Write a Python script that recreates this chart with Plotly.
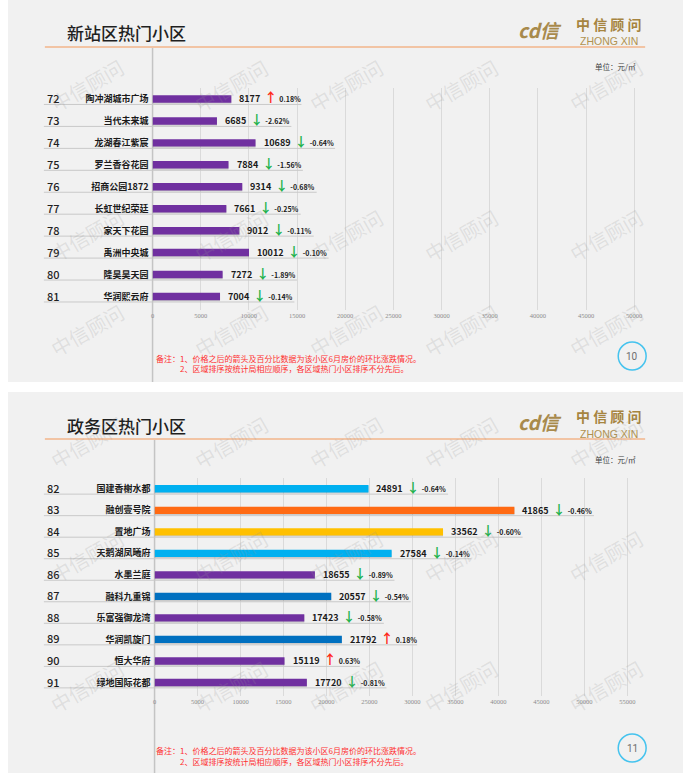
import plotly.graph_objects as go

W, H = 695, 779

# ---- 新站区 ----
xz_title = "新站区热门小区"
xz_rank = [72, 73, 74, 75, 76, 77, 78, 79, 80, 81]
xz_name = ["陶冲湖城市广场", "当代未来城", "龙湖春江紫宸", "罗兰香谷花园", "招商公园1872",
           "长虹世纪荣廷", "家天下花园", "禹洲中央城", "隆昊昊天园", "华润熙云府"]
xz_price = [8177, 6685, 10689, 7884, 9314, 7661, 9012, 10012, 7272, 7004]
xz_change = [0.18, -2.62, -0.64, -1.56, -0.68, -0.25, -0.11, -0.10, -1.89, -0.14]
xz_ticks = [0, 5000, 10000, 15000, 20000, 25000, 30000, 35000, 40000, 45000, 50000]
xz_page = "10"

# ---- 政务区 ----
zw_title = "政务区热门小区"
zw_rank = [82, 83, 84, 85, 86, 87, 88, 89, 90, 91]
zw_name = ["国建香榭水都", "融创壹号院", "置地广场", "天鹅湖凤曦府", "水墨兰庭",
           "融科九重锦", "乐富强御龙湾", "华润凯旋门", "恒大华府", "绿地国际花都"]
zw_price = [24891, 41865, 33562, 27584, 18655, 20557, 17423, 21792, 15119, 17720]
zw_change = [-0.64, -0.46, -0.60, -0.14, -0.89, -0.54, -0.58, 0.18, 0.63, -0.81]
zw_ticks = [0, 5000, 10000, 15000, 20000, 25000, 30000, 35000, 40000, 45000, 50000, 55000]
zw_page = "11"

unit_text = "单位：元/㎡"
note_1 = "备注：1、价格之后的箭头及百分比数据为该小区6月房价的环比涨跌情况。"
note_2 = "2、区域排序按统计局相应顺序，各区域热门小区排序不分先后。"

PURPLE = "#7030A0"
xz_colors = [PURPLE] * 10
zw_colors = ["#00B0F0", "#FF6A13", "#FFC000", "#00B0F0", PURPLE,
             "#0070C0", PURPLE, "#0070C0", PURPLE, PURPLE]

FONT = "Noto Sans CJK SC"


def px(x):
    return x / W


def py(y):
    return 1 - y / H


fig = go.Figure()
shapes = []
annotations = []

panels = [
    dict(suf="", top=0, bottom=382, y0=88, y1=310, x0=151, scale=0.00966,
         title=xz_title, rank=xz_rank, name=xz_name, price=xz_price,
         change=xz_change, colors=xz_colors, ticks=xz_ticks, page=xz_page),
    dict(suf="2", top=392, bottom=773, y0=478, y1=696, x0=153, scale=0.00862,
         title=zw_title, rank=zw_rank, name=zw_name, price=zw_price,
         change=zw_change, colors=zw_colors, ticks=zw_ticks, page=zw_page),
]

for p in panels:
    t = p["top"]
    xa, ya = "x" + p["suf"], "y" + p["suf"]

    # slide background
    shapes.append(dict(type="rect", xref="paper", yref="paper", x0=px(6), x1=px(683),
                       y0=py(t), y1=py(p["bottom"]), fillcolor="#F1F1F1",
                       line_width=0, layer="below"))
    # title underline and left axis line
    shapes.append(dict(type="line", xref="paper", yref="paper", x0=px(43), x1=px(645),
                       y0=py(t + 47), y1=py(t + 47), line=dict(color="#F2B48A", width=1.5),
                       layer="below"))
    shapes.append(dict(type="line", xref="paper", yref="paper", x0=px(p["x0"]), x1=px(p["x0"]),
                       y0=py(t + 48), y1=py(p["bottom"]), line=dict(color="#C4C4C4", width=1.5),
                       layer="below"))
    # page circle
    shapes.append(dict(type="circle", xref="paper", yref="paper", x0=px(618), x1=px(646),
                       y0=py(t + 342), y1=py(t + 370), line=dict(color="#45C3EE", width=1.5)))

    # soft shadow under the bars
    fig.add_trace(go.Bar(x=p["price"], y=p["name"], orientation="h",
                         marker=dict(color="rgba(0,0,0,0.16)", line_width=0), width=0.34,
                         offset=-0.12, xaxis=xa, yaxis=ya, hoverinfo="skip"))
    fig.add_trace(go.Bar(x=p["price"], y=p["name"], orientation="h",
                         marker=dict(color=p["colors"], line_width=0), width=0.34,
                         offset=-0.17, xaxis=xa, yaxis=ya, hoverinfo="skip"))

    for i, (r, n, v, c) in enumerate(zip(p["rank"], p["name"], p["price"], p["change"])):
        up = c > 0
        arrow = "↑" if up else "↓"
        acol = "#FF2A1A" if up else "#22B24C"
        pct = f"{c:.2f}%"
        label = (f"<b>{v}</b>\u00a0\u00a0<span style=\"color:{acol};font-size:13px\"><b>{arrow}</b></span>"
                 f"\u00a0<span style=\"font-size:7px\"><b>{pct}</b></span>")
        annotations.append(dict(xref=xa, yref=ya, x=v, y=n, xanchor="left", xshift=6, yshift=2,
                                text=label, showarrow=False,
                                font=dict(size=9, color="#1A1A1A", family=FONT)))
        annotations.append(dict(xref="paper", yref=ya, x=px(43), y=n, xanchor="left", yshift=1,
                                text=str(r), showarrow=False,
                                font=dict(size=11, color="#1F1F1F", family=FONT, weight=500)))
        label_px = 6 + 5.2 * len(str(v)) + 22 + 4.3 * len(pct)
        shapes.append(dict(type="line", xref="paper", yref=ya, x0=px(42), x1=px(p["x0"]),
                           y0=i + 0.25, y1=i + 0.25, line=dict(color="#C9C9C9", width=1)))
        shapes.append(dict(type="line", xref=xa, yref=ya, x0=0, x1=v + label_px / p["scale"],
                           y0=i + 0.25, y1=i + 0.25, line=dict(color="#C9C9C9", width=1)))

    xmax = (680 - p["x0"]) / p["scale"]
    fig.update_layout({
        "xaxis" + p["suf"]: dict(domain=[px(p["x0"]), px(680)], range=[0, xmax], anchor=ya,
                                 tickvals=p["ticks"], tickformat="d", showgrid=True,
                                 gridcolor="#DADADA", gridwidth=1, zeroline=False,
                                 showline=False, ticks="",
                                 tickfont=dict(size=6.5, color="#8C8C8C", family="Liberation Serif")),
        "yaxis" + p["suf"]: dict(domain=[py(p["y1"]), py(p["y0"])], type="category",
                                 autorange="reversed", anchor=xa, showgrid=False,
                                 zeroline=False, showline=False, ticks="", ticklabelstandoff=3,
                                 tickfont=dict(size=9, color="#1A1A1A", family=FONT, weight="bold")),
    })

    annotations += [
        dict(xref="paper", yref="paper", x=px(63), y=py(t + 33), xanchor="left", yanchor="middle",
             text=p["title"], showarrow=False,
             font=dict(size=17, color="#1F1F1F", family=FONT, weight=500)),
        dict(xref="paper", yref="paper", x=px(638), y=py(t + 67), xanchor="right", yanchor="middle",
             text=unit_text, showarrow=False, font=dict(size=7.5, color="#404040", family=FONT)),
        dict(xref="paper", yref="paper", x=px(152), y=py(t + 358), xanchor="left", yanchor="middle",
             text=note_1, showarrow=False, font=dict(size=8, color="#FF3030", family=FONT)),
        dict(xref="paper", yref="paper", x=px(177), y=py(t + 369), xanchor="left", yanchor="middle",
             text=note_2, showarrow=False, font=dict(size=8, color="#FF3030", family=FONT)),
        dict(xref="paper", yref="paper", x=px(632), y=py(t + 356), xanchor="center", yanchor="middle",
             text=p["page"], showarrow=False, font=dict(size=10, color="#6E6E6E", family="Roboto")),
        # logo
        dict(xref="paper", yref="paper", x=px(540), y=py(t + 29), xanchor="center", yanchor="middle",
             text="<b><i>cd信</i></b>", showarrow=False,
             font=dict(size=19, color="#A88A4C", family=FONT)),
        dict(xref="paper", yref="paper", x=px(609), y=py(t + 24), xanchor="center", yanchor="middle",
             text="中 信 顾 问", showarrow=False, height=16,
             font=dict(size=14, color="#A6843F", family=FONT, weight="bold")),
        dict(xref="paper", yref="paper", x=px(609), y=py(t + 41), xanchor="center", yanchor="middle",
             text="ZHONG XIN", showarrow=False, height=11,
             font=dict(size=10.5, color="#B0914F", family="Liberation Sans")),
    ]

    # watermarks
    for wy in (50, 200, 330):
        for wx in (40, 185, 345, 505, 650):
            annotations.append(dict(xref="paper", yref="paper", x=px(wx), y=py(t + wy),
                                    text="中信顾问", showarrow=False, textangle=-30,
                                    font=dict(size=20, color="rgba(150,150,150,0.2)", family=FONT)))

fig.update_layout(width=W, height=H, margin=dict(l=0, r=0, t=0, b=0),
                  paper_bgcolor="white", plot_bgcolor="rgba(0,0,0,0)",
                  showlegend=False, barmode="overlay", shapes=shapes, annotations=annotations,
                  font=dict(family=FONT))

fig.write_html("out.html", config={"displayModeBar": False},
               post_script="document.body.style.margin='0';")
